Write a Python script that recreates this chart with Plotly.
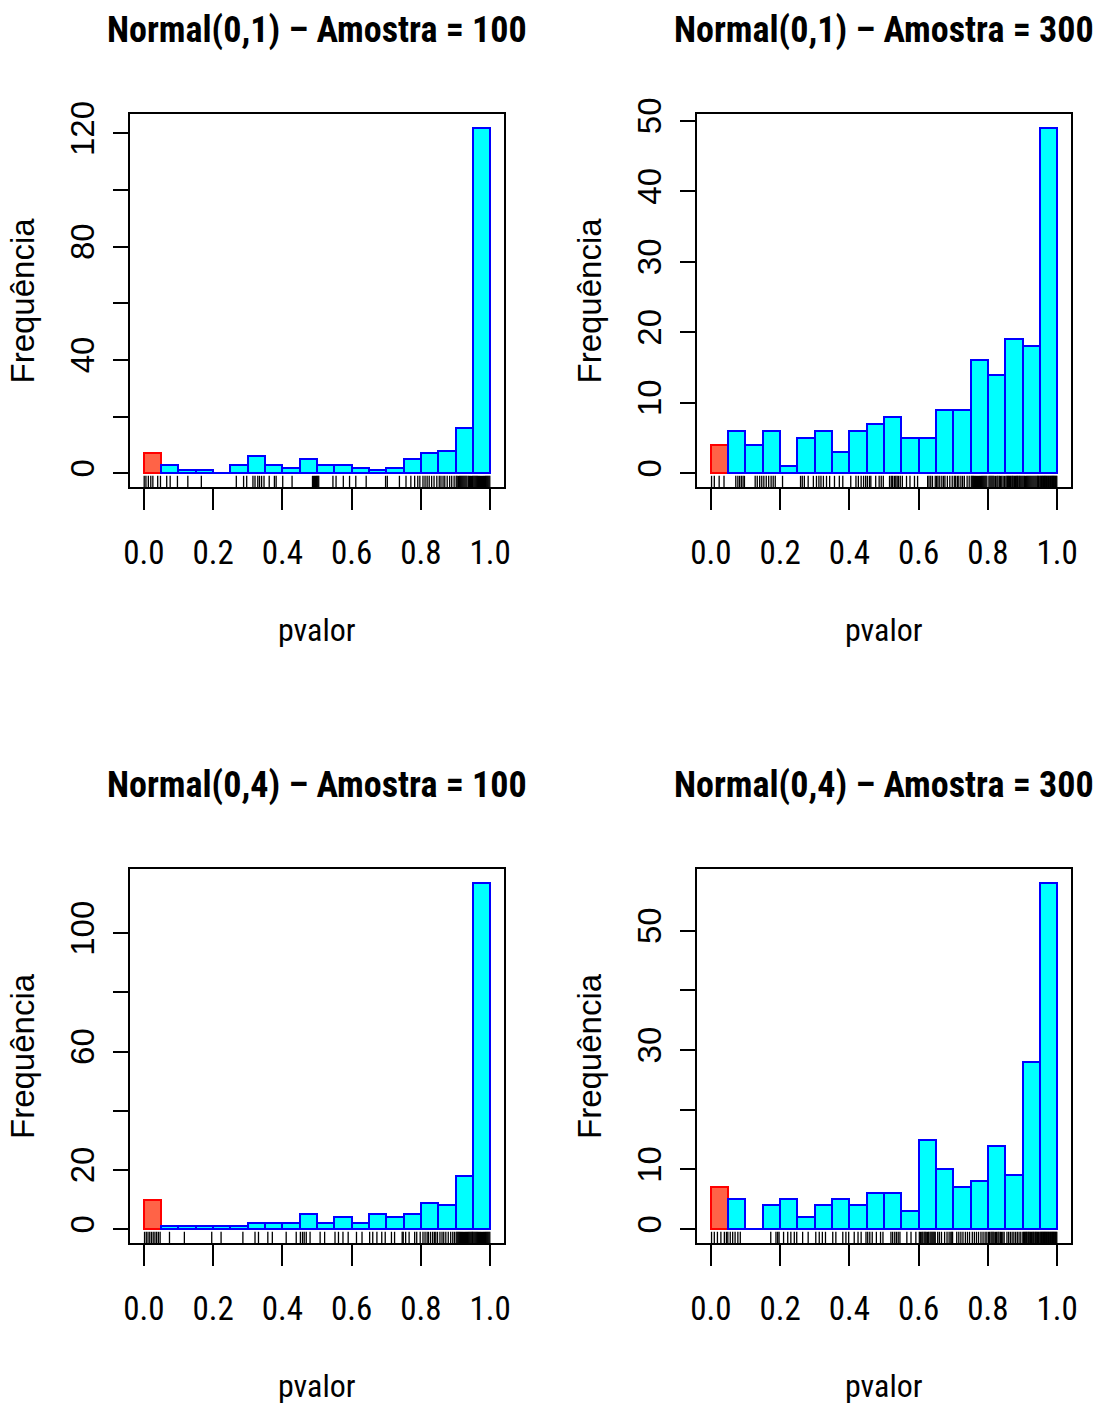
import plotly.graph_objects as go

# Histogram bin edges (p-values in [0, 1], width 0.05)
BREAKS = [0.00, 0.05, 0.10, 0.15, 0.20, 0.25, 0.30, 0.35, 0.40, 0.45, 0.50,
          0.55, 0.60, 0.65, 0.70, 0.75, 0.80, 0.85, 0.90, 0.95, 1.00]

TITLES = ["Normal(0,1) \u2013 Amostra = 100", "Normal(0,1) \u2013 Amostra = 300",
          "Normal(0,4) \u2013 Amostra = 100", "Normal(0,4) \u2013 Amostra = 300"]

# Bin frequencies of the p-values
COUNTS_N01_100 = [7, 3, 1, 1, 0, 3, 6, 3, 2, 5, 3, 3, 2, 1, 2, 5, 7, 8, 16, 122]
COUNTS_N01_300 = [4, 6, 4, 6, 1, 5, 6, 3, 6, 7, 8, 5, 5, 9, 9, 16, 14, 19, 18, 49]
COUNTS_N04_100 = [10, 1, 1, 1, 1, 1, 2, 2, 2, 5, 2, 4, 2, 5, 4, 5, 9, 8, 18, 117]
COUNTS_N04_300 = [7, 5, 0, 4, 5, 2, 4, 5, 4, 6, 6, 3, 15, 10, 7, 8, 14, 9, 28, 58]

# Individual p-values shown as a rug under each histogram
RUG_N01_100 = [0.001, 0.006, 0.013, 0.020, 0.026, 0.040, 0.048,
               0.066, 0.076, 0.097, 0.127, 0.166,
               0.267, 0.288, 0.297, 0.315, 0.321, 0.329, 0.334, 0.340, 0.347,
               0.362, 0.377, 0.382, 0.401, 0.428,
               0.487, 0.490, 0.493, 0.496, 0.499, 0.502, 0.505, 0.546,
               0.555, 0.576, 0.594, 0.612, 0.642, 0.698, 0.703, 0.738,
               0.757, 0.771, 0.782, 0.791, 0.797,
               0.806, 0.812, 0.818, 0.824, 0.831, 0.838, 0.846,
               0.853, 0.858, 0.864, 0.869, 0.876, 0.883, 0.889, 0.896,
               0.902, 0.905, 0.909, 0.912, 0.915, 0.918, 0.921, 0.924, 0.927,
               0.930, 0.933, 0.937, 0.940, 0.943, 0.946, 0.949,
               0.951, 0.954, 0.957, 0.960, 0.963, 0.966, 0.969, 0.972, 0.975,
               0.978, 0.981, 0.984, 0.987, 0.990, 0.993, 0.996, 0.999]
RUG_N01_300 = [0.002, 0.010, 0.024, 0.038,
               0.072, 0.078, 0.083, 0.088, 0.093, 0.097,
               0.128, 0.134, 0.141, 0.147, 0.153, 0.160, 0.167, 0.174, 0.180, 0.186,
               0.207, 0.259, 0.264, 0.270, 0.281, 0.296,
               0.305, 0.312, 0.318, 0.325, 0.334, 0.343, 0.357, 0.371, 0.381,
               0.404, 0.419, 0.426, 0.434, 0.441, 0.447,
               0.452, 0.458, 0.462, 0.476, 0.486, 0.492, 0.498,
               0.516, 0.521, 0.525, 0.530, 0.534, 0.538, 0.542, 0.547,
               0.553, 0.565, 0.575, 0.588, 0.597,
               0.626, 0.630, 0.635, 0.640, 0.648,
               0.652, 0.656, 0.661, 0.667, 0.672, 0.676, 0.683, 0.690, 0.697,
               0.703, 0.707, 0.712, 0.716, 0.722, 0.727, 0.732, 0.740, 0.746,
               0.752, 0.755, 0.758, 0.761, 0.764, 0.767, 0.770, 0.773, 0.776,
               0.779, 0.782, 0.785, 0.788, 0.791, 0.794, 0.797,
               0.803, 0.806, 0.809, 0.812, 0.815, 0.818, 0.822, 0.826, 0.829,
               0.833, 0.836, 0.840, 0.844, 0.848,
               0.852, 0.855, 0.857, 0.860, 0.862, 0.865, 0.867, 0.870, 0.872,
               0.875, 0.877, 0.880, 0.882, 0.885, 0.887, 0.890, 0.892, 0.895, 0.898,
               0.901, 0.904, 0.906, 0.909, 0.912, 0.915, 0.918, 0.921, 0.924,
               0.927, 0.930, 0.933, 0.936, 0.939, 0.942, 0.944, 0.946, 0.948,
               0.951, 0.953, 0.955, 0.957, 0.959, 0.961, 0.963, 0.965, 0.967,
               0.969, 0.971, 0.973, 0.975, 0.977, 0.979, 0.981, 0.983, 0.985,
               0.987, 0.989, 0.991, 0.993, 0.995, 0.997, 0.999]
RUG_N04_100 = [0.002, 0.007, 0.012, 0.017, 0.022, 0.027, 0.032, 0.037, 0.042, 0.047,
               0.074, 0.117, 0.196, 0.223, 0.286,
               0.321, 0.331, 0.358, 0.371, 0.411, 0.440,
               0.452, 0.458, 0.463, 0.469, 0.480, 0.509, 0.522,
               0.552, 0.562, 0.575, 0.590, 0.614, 0.630,
               0.652, 0.661, 0.673, 0.687, 0.697, 0.715, 0.724, 0.746, 0.749,
               0.756, 0.766, 0.782, 0.788, 0.798,
               0.806, 0.812, 0.818, 0.822, 0.828, 0.834, 0.839, 0.843, 0.848,
               0.855, 0.861, 0.866, 0.872, 0.879, 0.886, 0.892, 0.897,
               0.902, 0.905, 0.908, 0.911, 0.914, 0.917, 0.920, 0.923, 0.926,
               0.929, 0.932, 0.935, 0.938, 0.941, 0.944, 0.947, 0.949,
               0.951, 0.954, 0.957, 0.960, 0.963, 0.966, 0.969, 0.972, 0.975,
               0.978, 0.981, 0.984, 0.987, 0.990, 0.993, 0.996, 0.999]
RUG_N04_300 = [0.002, 0.010, 0.019, 0.029, 0.039, 0.045, 0.049,
               0.056, 0.063, 0.070, 0.078, 0.085,
               0.173, 0.188, 0.193, 0.197, 0.210, 0.222, 0.231, 0.241, 0.248,
               0.265, 0.281, 0.303, 0.313, 0.322, 0.331,
               0.352, 0.361, 0.381, 0.390, 0.398, 0.414, 0.425, 0.434, 0.448,
               0.453, 0.459, 0.466, 0.478, 0.490, 0.497,
               0.520, 0.525, 0.531, 0.536, 0.541, 0.546, 0.566, 0.578, 0.592,
               0.602, 0.605, 0.609, 0.612, 0.616, 0.619, 0.622, 0.626, 0.629,
               0.633, 0.636, 0.639, 0.642, 0.645, 0.648,
               0.655, 0.660, 0.666, 0.675, 0.682, 0.688, 0.693, 0.696, 0.698,
               0.710, 0.716, 0.722, 0.728, 0.735, 0.741, 0.747,
               0.755, 0.761, 0.767, 0.773, 0.780, 0.786, 0.792, 0.797,
               0.802, 0.805, 0.809, 0.812, 0.815, 0.818, 0.822, 0.825, 0.829,
               0.832, 0.836, 0.839, 0.843, 0.847,
               0.855, 0.860, 0.865, 0.870, 0.875, 0.880, 0.885, 0.890, 0.895,
               0.901, 0.903, 0.906, 0.908, 0.911, 0.913, 0.916, 0.918, 0.921,
               0.923, 0.926, 0.928, 0.931, 0.933, 0.936, 0.938, 0.941, 0.943,
               0.946, 0.948,
               0.951, 0.953, 0.955, 0.957, 0.959, 0.961, 0.963, 0.965, 0.967,
               0.969, 0.971, 0.973, 0.975, 0.977, 0.979, 0.981, 0.983, 0.985,
               0.987, 0.989, 0.991, 0.993, 0.995, 0.997, 0.999]

X_TICKS = [0.0, 0.2, 0.4, 0.6, 0.8, 1.0]
X_TICK_LABELS = ["0.0", "0.2", "0.4", "0.6", "0.8", "1.0"]
Y_TICKS = [[0, 20, 40, 60, 80, 100, 120],
           [0, 10, 20, 30, 40, 50],
           [0, 20, 40, 60, 80, 100],
           [0, 10, 20, 30, 40, 50]]
Y_TICK_LABELS = [["0", "", "40", "", "80", "", "120"],
                 ["0", "10", "20", "30", "40", "50"],
                 ["0", "20", "", "60", "", "100"],
                 ["0", "10", "", "30", "", "50"]]

X_LABEL = "pvalor"
Y_LABEL = "Frequ\u00eancia"

counts_all = [COUNTS_N01_100, COUNTS_N01_300, COUNTS_N04_100, COUNTS_N04_300]
rugs_all = [RUG_N01_100, RUG_N01_300, RUG_N04_100, RUG_N04_300]

W, H = 1099, 1407
# plot boxes in pixels: (left, right, top, bottom)
BOXES = [(130, 504, 114, 487), (697, 1071, 114, 487),
         (130, 504, 869, 1243), (697, 1071, 869, 1243)]

NARROW = "Roboto Condensed, Open Sans Condensed, sans-serif"
REGULAR = "Liberation Sans, Arial, Helvetica, sans-serif"


def px_x(x):
    return x / W


def px_y(y):
    return 1 - y / H


fig = go.Figure()
layout = dict(width=W, height=H, autosize=False,
              margin=dict(l=0, r=0, t=0, b=0, pad=0),
              paper_bgcolor="white", plot_bgcolor="white",
              showlegend=False, bargap=0, annotations=[])

widths = [BREAKS[i + 1] - BREAKS[i] for i in range(len(BREAKS) - 1)]
centers = [(BREAKS[i] + BREAKS[i + 1]) / 2 for i in range(len(BREAKS) - 1)]

for k in range(4):
    sfx = "" if k == 0 else str(k + 1)
    xa, ya = "x" + sfx, "y" + sfx
    counts = counts_all[k]
    ymax = max(counts)
    y0, y1 = -0.04 * ymax, 1.04 * ymax

    fills = ["#FF6347"] + ["#00FFFF"] * (len(counts) - 1)
    edges = ["#FF0000"] + ["#0000FF"] * (len(counts) - 1)
    fig.add_trace(go.Bar(x=centers, y=counts, width=widths,
                         marker=dict(color=fills, line=dict(color=edges, width=2)),
                         xaxis=xa, yaxis=ya, hoverinfo="x+y"))

    # rug ticks at the bottom of the plotting region
    rx, ry = [], []
    tick_top = y0 + 0.03 * (y1 - y0)
    for v in rugs_all[k]:
        rx += [v, v, None]
        ry += [y0, tick_top, None]
    fig.add_trace(go.Scatter(x=rx, y=ry, mode="lines",
                             line=dict(color="black", width=1.3),
                             xaxis=xa, yaxis=ya, hoverinfo="skip"))

    L, R, T, B = BOXES[k]
    layout["xaxis" + sfx] = dict(
        domain=[px_x(L), px_x(R)], range=[-0.04, 1.04], anchor=ya,
        automargin=False,
        showline=True, linecolor="black", linewidth=2, mirror=True,
        showgrid=False, zeroline=False,
        ticks="outside", ticklen=21, tickwidth=1.5, tickcolor="black",
        tickvals=X_TICKS, ticktext=X_TICK_LABELS, ticklabelstandoff=14,
        tickfont=dict(family=NARROW, size=33, color="black"))
    layout["yaxis" + sfx] = dict(
        domain=[px_y(B), px_y(T)], range=[y0, y1], anchor=xa,
        automargin=False,
        showline=True, linecolor="black", linewidth=2, mirror=True,
        showgrid=False, zeroline=False,
        ticks="outside", ticklen=15, tickwidth=1.5, tickcolor="black",
        tickvals=Y_TICKS[k], ticktext=Y_TICK_LABELS[k], tickangle=-90,
        ticklabelstandoff=6,
        tickfont=dict(family=REGULAR, size=33, color="black"))

    cx = px_x((L + R) / 2)
    layout["annotations"] += [
        dict(text="<b>" + TITLES[k] + "</b>", x=cx, y=px_y(T - 84),
             xref="paper", yref="paper", xanchor="center", yanchor="middle",
             showarrow=False, font=dict(family=NARROW, size=36, color="black")),
        dict(text=X_LABEL, x=cx, y=px_y(B + 143), xref="paper", yref="paper",
             xanchor="center", yanchor="middle", showarrow=False,
             font=dict(family=NARROW, size=32, color="black")),
        dict(text=Y_LABEL, x=px_x(L - 108), y=px_y((T + B) / 2),
             xref="paper", yref="paper", xanchor="center", yanchor="middle",
             textangle=-90, showarrow=False,
             font=dict(family=REGULAR, size=33, color="black")),
    ]

fig.update_layout(**layout)
fig.write_html(
    "out.html",
    post_script="document.body.style.margin='0';document.body.style.overflow='hidden';",
)
